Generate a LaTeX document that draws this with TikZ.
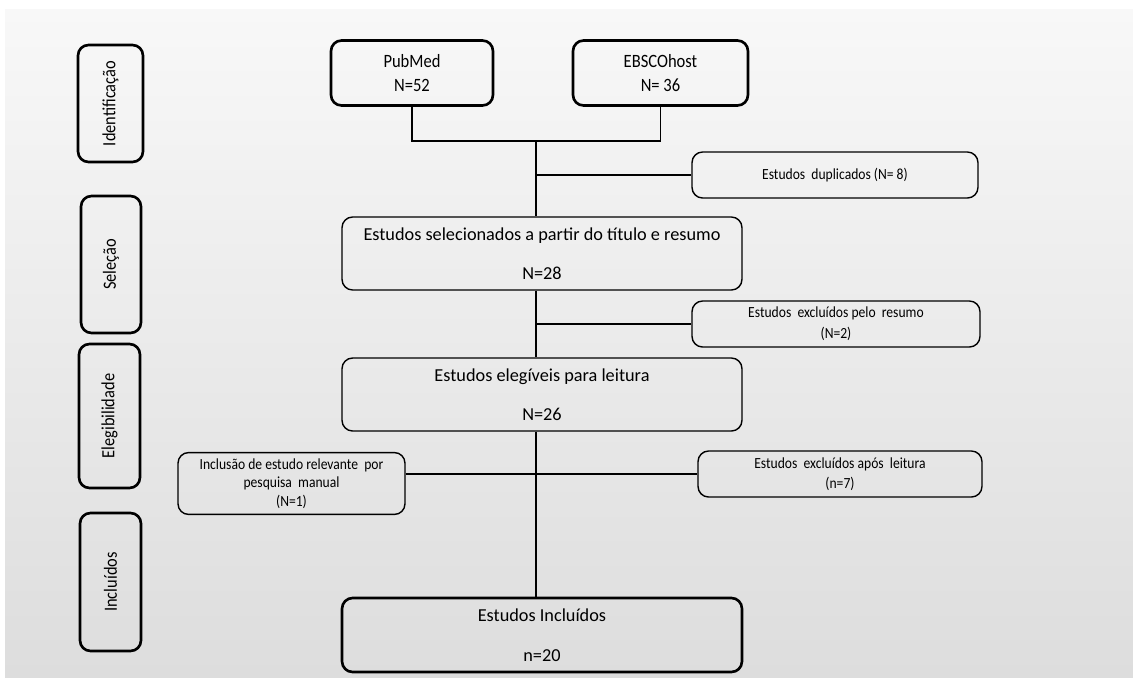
\documentclass[tikz,border=0pt]{standalone}
\usepackage{fontspec}
\setmainfont{Carlito}
\newfontfamily\narrowfont{Carlito}[FakeStretch=0.88]
\usepackage{tikz}
\usetikzlibrary{calc}
\definecolor{panetop}{RGB}{248,248,248}
\definecolor{panebottom}{RGB}{221,221,221}

\begin{document}
\begin{tikzpicture}[
    x=0.02cm, y=-0.02cm,
    phase/.style={draw, line width=1.5pt, rounded corners=6pt, rotate=90, align=center, font=\narrowfont\fontsize{10.6}{13}\selectfont},
    source/.style={draw, line width=1.5pt, rounded corners=6pt, minimum width=3.3cm, minimum height=1.3cm, align=center, font=\narrowfont\fontsize{10.7}{12.5}\selectfont},
    stage/.style={draw, line width=0.8pt, rounded corners=6pt, minimum width=8cm, minimum height=1.46cm, align=center, font=\fontsize{10.4}{12.5}\selectfont},
    note/.style={draw, line width=0.8pt, rounded corners=6pt, minimum width=5.72cm, minimum height=0.92cm, align=center, font=\narrowfont\fontsize{8.8}{10.6}\selectfont},
    link/.style={draw, line width=0.8pt}
]
    \useasboundingbox (0,0) rectangle (1133,677);
    \shade[top color=panetop, bottom color=panebottom] (5,9) rectangle (1133,677);

    \node[phase, minimum width=2.34cm, minimum height=1.3cm] (ident) at (110.5,103.5) {Identificação};
    \node[phase, minimum width=2.74cm, minimum height=1.2cm] (selphase) at (111,264.5) {Seleção};
    \node[phase, minimum width=2.88cm, minimum height=1.22cm] (eligphase) at (109.5,416) {Elegibilidade};
    \node[phase, minimum width=2.76cm, minimum height=1.22cm] (inclphase) at (110.5,582) {Incluídos};

    \node[source, minimum width=3.24cm] (pubmed) at (412,73) {PubMed\\[1.5pt]N=52};
    \node[source, minimum width=3.5cm] (ebsco) at (660.5,73) {EBSCOhost\\[1.5pt]N= 36};
    \node[note] (dup) at (835,175) {Estudos~ duplicados (N= 8)};
    \node[stage] (selected) at (542,253.5) {Estudos selecionados a partir do título e resumo\\[10pt]N=28};
    \node[note, minimum width=5.76cm] (exclabs) at (836,324) {Estudos~ excluídos pelo~ resumo\\[1.5pt](N=2)};
    \node[stage] (eligible) at (542,394.5) {Estudos elegíveis para leitura\\[10pt]N=26};
    \node[note, minimum width=4.54cm, minimum height=1.14cm] (manual) at (291.5,483.5) {Inclusão de estudo relevante~ por\\pesquisa~ manual\\(N=1)};
    \node[note, minimum width=5.68cm] (exclread) at (840,474) {Estudos~ excluídos após~ leitura\\[1pt](n=7)};
    \node[stage, line width=1.5pt, minimum height=1.48cm] (included) at (542,635) {Estudos Incluídos\\[10pt]n=20};

    \coordinate (merge) at (536,141);
    \draw[link] (pubmed.south) |- (merge) -| (ebsco.south);
    \draw[link] (merge) -- (merge |- selected.north);
    \draw[link] (merge |- dup.west) -- (dup.west);
    \draw[link] (selected.south -| merge) -- (eligible.north -| merge);
    \draw[link] (merge |- exclabs.west) -- (exclabs.west);
    \draw[link] (eligible.south -| merge) -- (included.north -| merge);
    \draw[link] (manual.east |- exclread.west) -- (exclread.west);
\end{tikzpicture}
\end{document}
